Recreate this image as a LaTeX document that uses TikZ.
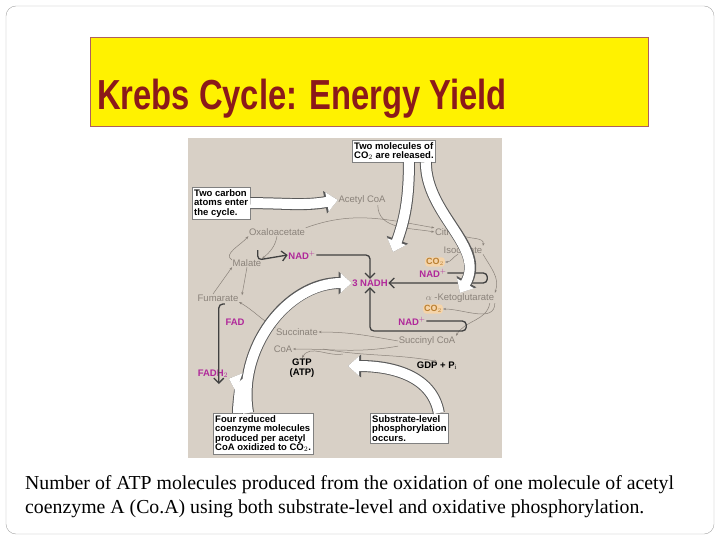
\documentclass[tikz,border=0pt]{standalone}
\usepackage{fontspec}
\setmainfont{Liberation Serif}
\newfontfamily\sfb{Liberation Sans}
\usetikzlibrary{arrows.meta}
\definecolor{beige}{HTML}{D8D0C6}
\definecolor{ttl}{HTML}{8B1A1A}
\definecolor{mag}{HTML}{B0289A}
\definecolor{org}{HTML}{E8A040}
\definecolor{cyc}{HTML}{8A827A}
\begin{document}
\begin{tikzpicture}[x=1pt,y=-1pt,
  lbl/.style={font=\sfb\fontsize{9.5}{10}\selectfont,text=cyc,inner sep=0.5pt},
  mg/.style={font=\sfb\bfseries\fontsize{9.5}{10}\selectfont,text=mag,inner sep=0.5pt},
  og/.style={font=\sfb\bfseries\fontsize{9}{10}\selectfont,text=org!80!black,fill=org!45,rounded corners=3pt,inner sep=1pt},
  bk/.style={font=\sfb\bfseries\fontsize{9.5}{10}\selectfont,inner sep=0.5pt,align=center},
  note/.style={draw=gray,fill=white,font=\sfb\bfseries\fontsize{9.5}{9.5}\selectfont,align=left,inner sep=2pt,anchor=north west},
  thin/.style={draw=cyc,line width=0.5pt,-{Stealth[length=3pt]}},
  dark/.style={draw=black!75,line width=1.3pt,rounded corners=4pt,-{Straight Barb[length=5pt]}},
  bigo/.style={draw=gray!70!black,line width=12pt,-{Triangle[length=13pt,width=22pt]}},
  bigi/.style={draw=white,line width=10pt,-{Triangle[length=11pt,width=19pt]}}]
\useasboundingbox (0,0) rectangle (720,540);
\draw[gray!70,rounded corners=10pt] (6,6) rectangle (714,534);
\node[draw=ttl!70,fill=yellow,minimum width=558pt,minimum height=89pt,anchor=north west] (tb) at (90,37) {};
\node[anchor=base west,inner sep=0,text=ttl] (tt) at (97,110)
 {\scalebox{0.78}[1]{\sfb\bfseries\fontsize{42}{42}\selectfont Krebs Cycle: Energy Yield}};
\fill[beige] (188,138) rectangle (502,458);
% labels
\node[lbl] (acc) at (362,200) {Acetyl CoA};
\node[lbl] (oxa) at (277,232) {Oxaloacetate};
\node[lbl] (cit) at (449,232) {Citrate};
\node[lbl] (iso) at (463,250) {Isocitrate};
\node[lbl] (mal) at (247,263) {Malate};
\node[lbl] (fum) at (218,298) {Fumarate};
\node[lbl] (akg) at (460,298) {$\alpha$ -Ketoglutarate};
\node[lbl] (suc) at (297,332) {Succinate};
\node[lbl] (scoa) at (427,341) {Succinyl CoA};
\node[lbl] (coa) at (283,349) {CoA};
\node[og] (co2a) at (435,262) {CO$_2$};
\node[og] (co2b) at (433,309) {CO$_2$};
\node[mg] (nad1) at (302,255) {NAD$^+$};
\node[mg] (nad2) at (433,273) {NAD$^+$};
\node[mg] (nad3) at (412,321) {NAD$^+$};
\node[mg] (nadh) at (370,283) {3 NADH};
\node[mg] (fad) at (235,322) {FAD};
\node[mg] (fadh) at (213,374) {FADH$_2$};
\node[bk] (gtp) at (302,368) {GTP\\(ATP)};
\node[bk] (gdp) at (437,366) {GDP + P$_\mathrm{i}$};
% thin cycle arrows
\draw[thin] (acc.south west) ++(40,0) to[out=-90,in=170] (cit.west);
\draw[thin] (oxa.north east) to[out=20,in=170] (cit.north west);
\draw[thin] (cit.south east) to[out=-20,in=80] (iso.north east);
\draw[thin] (iso.south east) to[out=-60,in=70] (akg.north east);
\draw[thin] (iso.south) ++(-5,0) to[out=-150,in=0] (co2a.east);
\draw[thin] (akg.south east) to[out=-90,in=0] (co2b.east);
\draw[thin] (akg.south east) ++(-5,0) to[out=-100,in=60] (scoa.north east);
\draw[thin] (scoa.south west) to[out=190,in=0] (coa.east);
\draw[thin] (scoa.west) to[out=170,in=0] (suc.east);
\draw[thin] (coa.east) ++(30,0) to[out=-10,in=170] (gdp.north);
\draw[thin] (coa.east) ++(50,5) to[out=190,in=60] (gtp.north);
\draw[thin] (suc.north west) to[out=150,in=-30] (fum.south east);
\draw[thin] (fum.north) ++(-5,0) -- (mal.south west);
\draw[thin] (mal.south) -- ++(-5,28);
\draw[thin] (mal.west) ++(0,-3) to[out=150,in=-130] (oxa.south west);
\draw[thin] (oxa.south) to[out=-100,in=40] (mal.north east);
% dark arrows
\draw[dark] (nad1.west) ++(-30,-5) -- ++(0,10) -- (nad1.west);
\draw[dark] (nad1.east) -| (nadh.north);
\draw[dark] (nad2.east) -- ++(40,0) -- ++(0,10) -- (nadh.east);
\draw[dark] (nad3.east) -- ++(40,0) -- ++(0,10) -| (nadh.south);
\draw[dark] (fad.north west) ++(0,-14) -- ++(-6,0) -- ++(0,80);
% notes
\node[note] (n1) at (352,140) {Two molecules of\\CO$_2$ are released.};
\node[note] (n2) at (192,187) {Two carbon\\atoms enter\\the cycle.};
\node[note] (n3) at (213,413) {Four reduced\\coenzyme molecules\\produced per acetyl\\CoA oxidized to CO$_2$.};
\node[note] (n4) at (370,413) {Substrate-level\\phosphorylation\\occurs.};
% big white arrows
\foreach \s in {bigo,bigi}{
 \draw[\s] (n2.east) to[out=0,in=190] (acc.west);
 \draw[\s] (n1.south) ++(15,0) to[out=-90,in=70] (393,252);
 \draw[\s] (n1.south east) ++(-10,0) to[out=-90,in=60] (akg.north);
 \draw[\s] (n3.north) ++(-15,0) to[out=100,in=180] (nadh.west);
 \draw[\s] (n3.north west) ++(25,0) to[out=90,in=-20] (fadh.south east);
 \draw[\s] (n4.north east) ++(-10,0) to[out=100,in=0] (348,366);
}
% caption
\node[anchor=north west,align=left,inner sep=0,font=\fontsize{19.8}{24}\selectfont] (cap) at (25,475)
{Number of ATP molecules produced from the oxidation of one molecule of acetyl\\coenzyme A (Co.A) using both substrate-level and oxidative phosphorylation.};
\end{tikzpicture}
\end{document}
